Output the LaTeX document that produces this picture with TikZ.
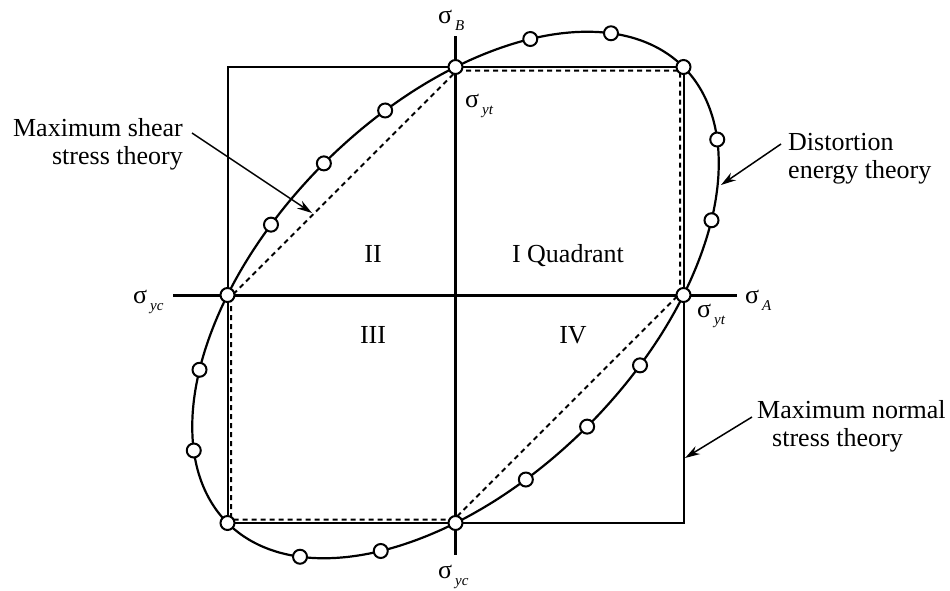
\documentclass[tikz,border=0pt]{standalone}
\usepackage{fontspec}
\setmainfont{Liberation Serif}
\usetikzlibrary{arrows.meta}
\newcommand{\sgm}[1]{σ\kern3pt\raisebox{-7pt}{\fontsize{15}{15}\selectfont\itshape #1}}
\begin{document}
\begin{tikzpicture}[x=1pt,y=-1pt,
  axisline/.style={line width=3pt},
  sqline/.style={line width=2pt},
  shearline/.style={line width=2pt, dash pattern=on 5pt off 4pt},
  ellline/.style={line width=2.2pt},
  dotmark/.style={circle, draw, fill=white, line width=2pt, minimum size=14pt, inner sep=0pt},
  lbl/.style={font=\fontsize{26}{28}\selectfont, inner sep=0pt},
  sig/.style={font=\fontsize{26}{28}\selectfont, inner sep=0pt, anchor=base west},
  arr/.style={line width=1.5pt, -{Stealth[length=15pt,width=9pt]}}]
\useasboundingbox (0,0) rectangle (950,590);
% maximum normal stress square
\coordinate (s1) at (227.5,67);
\coordinate (s2) at (683.5,67);
\coordinate (s3) at (683.5,523);
\coordinate (s4) at (227.5,523);
\draw[sqline] (s1) -- (s2) -- (s3) -- (s4) -- cycle;
% maximum shear stress hexagon
\coordinate (h1) at (457,70.5);
\coordinate (h2) at (680,70.5);
\coordinate (h3) at (680,293.5);
\coordinate (h4) at (454,519.5);
\coordinate (h5) at (231,519.5);
\coordinate (h6) at (231,296.5);
\draw[shearline] (h1) -- (h2) -- (h3) -- (h4) -- (h5) -- (h6) -- cycle;
% axes
\coordinate (vt) at (455.5,36);
\coordinate (vb) at (455.5,555);
\coordinate (hl) at (173,295);
\coordinate (hr) at (737,295);
\draw[axisline] (vt) -- (vb);
\draw[axisline] (hl) -- (hr);
% distortion energy ellipse
\draw[ellline] plot[variable=\t, domain=0:357, samples=120, smooth cycle]
  ({455.5+228*(cos(\t)-sin(\t)/sqrt(3))},{295-228*(cos(\t)+sin(\t)/sqrt(3))});
% arrows
\coordinate (msA) at (192,133);
\coordinate (msB) at (312,213);
\coordinate (deA) at (781,144);
\coordinate (deB) at (721,185);
\coordinate (mnA) at (752,417);
\coordinate (mnB) at (685,458);
\draw[arr] (msA) -- (msB);
\draw[arr] (deA) -- (deB);
\draw[arr] (mnA) -- (mnB);
% markers
\foreach \t [count=\i] in {60,43.5,23.8,0,-23.8,-43.5,-60,-75.5,-90,-104.5,-120,-136.5,-156.2,180,156.2,136.5,120,104.5,90,75.5}
  \node[dotmark] (c\i) at ({455.5+228*(cos(\t)-sin(\t)/sqrt(3))},{295-228*(cos(\t)+sin(\t)/sqrt(3))}) {};
% labels
\node[lbl, align=right, anchor=east] (ms) at (183,144) {Maximum shear\\stress theory};
\node[lbl, align=left, anchor=west] (de) at (788,159) {Distortion\\energy theory};
\node[lbl, align=left, anchor=west] (mn) at (757,426) {Maximum normal\\\hspace*{15pt}stress theory};
\node[lbl, anchor=base] (q1) at (568,262) {I Quadrant};
\node[lbl, anchor=base] (q2) at (373,262) {II};
\node[lbl, anchor=base] (q3) at (373,343) {III};
\node[lbl, anchor=base] (q4) at (573,343) {IV};
\node[sig] (sB) at (438,23) {\sgm{B}};
\node[sig] (sA) at (745,303) {\sgm{A}};
\node[sig] (syt1) at (465,107) {\sgm{yt}};
\node[sig] (syt2) at (697,317) {\sgm{yt}};
\node[sig] (syc1) at (133,303) {\sgm{yc}};
\node[sig] (syc2) at (438,578) {\sgm{yc}};
\end{tikzpicture}
\end{document}
